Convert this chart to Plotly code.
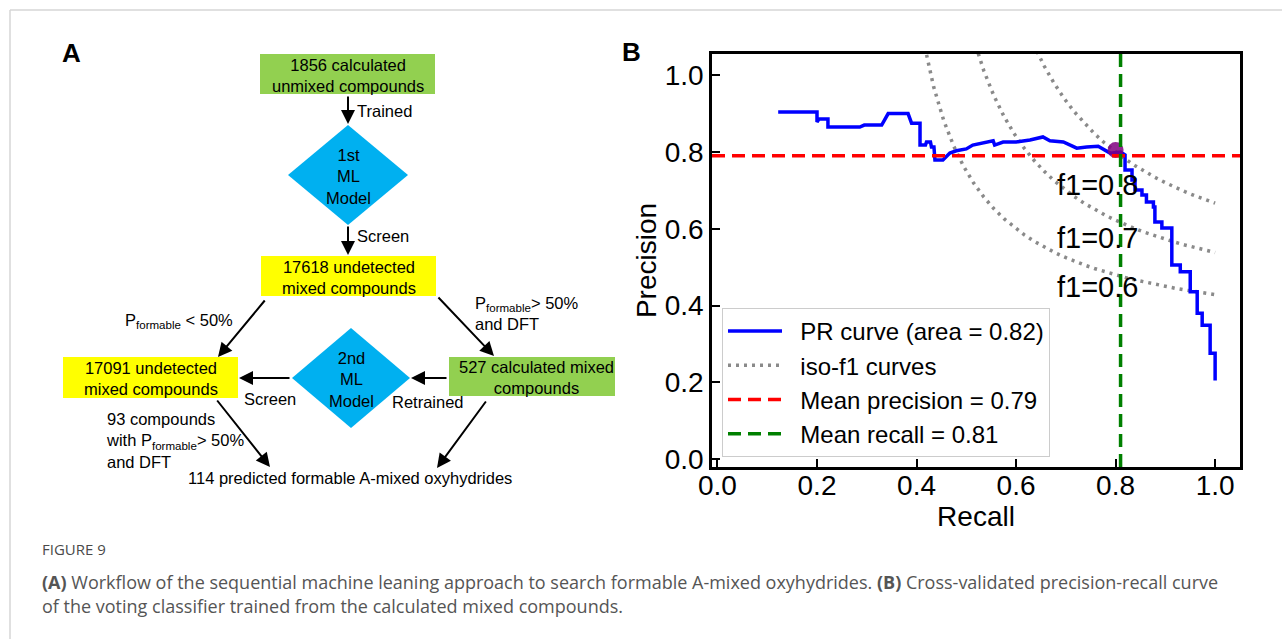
import numpy as np
import plotly.graph_objects as go

W, H = 1282, 639

# ---------------- Panel B: cross-validated precision-recall curve ----------------
recall = [0.122, 0.200, 0.200, 0.204, 0.222, 0.222, 0.286, 0.295, 0.330, 0.343,
          0.383, 0.390, 0.407, 0.407, 0.418, 0.420, 0.428, 0.430, 0.435, 0.437,
          0.453, 0.467, 0.480, 0.500, 0.513, 0.534, 0.554, 0.557, 0.574, 0.600,
          0.628, 0.654, 0.668, 0.695, 0.709, 0.722, 0.742, 0.765, 0.789, 0.810,
          0.819, 0.819, 0.833, 0.833, 0.839, 0.839, 0.853, 0.853, 0.862, 0.862,
          0.876, 0.876, 0.879, 0.879, 0.893, 0.893, 0.913, 0.913, 0.930, 0.930,
          0.950, 0.950, 0.964, 0.964, 0.974, 0.974, 0.990, 0.990, 1.000, 1.000]
precision = [0.904, 0.904, 0.878, 0.886, 0.886, 0.865, 0.865, 0.870, 0.870, 0.900,
             0.900, 0.875, 0.875, 0.818, 0.818, 0.826, 0.826, 0.813, 0.813, 0.779,
             0.779, 0.797, 0.803, 0.808, 0.818, 0.823, 0.829, 0.818, 0.826, 0.826,
             0.831, 0.839, 0.829, 0.826, 0.818, 0.810, 0.813, 0.815, 0.797, 0.800,
             0.792, 0.753, 0.753, 0.727, 0.727, 0.701, 0.701, 0.688, 0.688, 0.670,
             0.670, 0.657, 0.657, 0.618, 0.618, 0.602, 0.602, 0.506, 0.506, 0.488,
             0.488, 0.436, 0.436, 0.380, 0.380, 0.349, 0.349, 0.276, 0.276, 0.205]
assert len(recall) == len(precision)

f_scores = [0.6, 0.7, 0.8]
pr_area = 0.82
mean_precision = 0.79
mean_recall = 0.81
operating_recall = [0.80]
operating_precision = [0.805]

# ---------------- Panel A: workflow text ----------------
box_texts = ["1856 calculated<br>unmixed compounds",
             "17618 undetected<br>mixed compounds",
             "17091 undetected<br>mixed compounds",
             "527 calculated mixed<br>compounds"]
model_texts = ["1st<br>ML<br>Model", "2nd<br>ML<br>Model"]
edge_texts = ["Trained", "Screen", "P<sub>formable</sub> < 50%",
              "P<sub>formable</sub>> 50%<br>and DFT", "Screen", "Retrained",
              "93 compounds<br>with P<sub>formable</sub>> 50%<br>and DFT"]
result_text = "114 predicted formable A-mixed oxyhydrides"

caption_title = "FIGURE 9"
caption_lines = ["<b>(A)</b> Workflow of the sequential machine leaning approach to search formable "
                 "A-mixed oxyhydrides. <b>(B)</b> Cross-validated precision-recall curve",
                 "of the voting classifier trained from the calculated mixed compounds."]

GREEN, YELLOW, BLUE = "#92D050", "#FFFF00", "#00B0F0"
FONT = "Liberation Sans, Arial, sans-serif"
PAD = "\u00a0\u00a0"  # gap between legend sample line and its label

fig = go.Figure()

# iso-f1 reference curves
x_iso = np.linspace(0.01, 1, 50)
for i, f in enumerate(f_scores):
    y_iso = f * x_iso / (2 * x_iso - f)
    keep = y_iso >= 0
    fig.add_trace(go.Scatter(
        x=x_iso[keep], y=y_iso[keep], mode="lines",
        line=dict(color="rgba(125,125,125,0.9)", width=3.5, dash="3px,5px"),
        name=PAD + "iso-f1 curves", showlegend=(i == 0), legendgroup="iso", legendrank=2,
        xaxis="x", yaxis="y", hoverinfo="skip"))

fig.add_trace(go.Scatter(
    x=recall, y=precision, mode="lines",
    line=dict(color="#0000FF", width=3.5),
    name=PAD + f"PR curve (area = {pr_area:.2f})", legendgroup="pr", legendrank=1,
    xaxis="x", yaxis="y"))

fig.add_trace(go.Scatter(
    x=operating_recall, y=operating_precision, mode="markers",
    marker=dict(color="purple", size=16, opacity=0.85),
    showlegend=False, xaxis="x", yaxis="y"))

fig.add_trace(go.Scatter(
    x=[-0.011, 1.05], y=[mean_precision, mean_precision], mode="lines",
    line=dict(color="#FF0000", width=3.5, dash="13px,7px"),
    name=PAD + f"Mean precision = {mean_precision:.2f}", legendgroup="mp", legendrank=3,
    xaxis="x", yaxis="y"))

fig.add_trace(go.Scatter(
    x=[mean_recall, mean_recall], y=[-0.02, 1.055], mode="lines",
    line=dict(color="#008000", width=3.5, dash="13px,7px"),
    name=PAD + f"Mean recall = {mean_recall:.2f}", legendgroup="mr", legendrank=4,
    xaxis="x", yaxis="y"))

annotations = []
shapes = []

# f1 labels next to the iso curves
f1_label_pos = {0.8: (0.763, 0.714), 0.7: (0.763, 0.576), 0.6: (0.763, 0.448)}
for f in f_scores:
    lx, ly = f1_label_pos[f]
    annotations.append(dict(x=lx, y=ly, xref="x", yref="y", text=f"f1={f:.1f}",
                            xanchor="center", yanchor="middle", showarrow=False,
                            font=dict(family=FONT, size=29, color="black")))

# ---------------- Panel A drawing (pixel units, y downward) ----------------
box_geom = [(260, 435, 54, 94, GREEN), (261, 436, 256, 296, YELLOW),
            (63, 238, 357, 398, YELLOW), (449, 624, 357, 396, GREEN)]
for (x0, x1, y0, y1, col), txt in zip(box_geom, box_texts):
    shapes.append(dict(type="rect", xref="x2", yref="y2", x0=x0, x1=x1, y0=y0, y1=y1,
                       fillcolor=col, line=dict(width=0), layer="below"))
    annotations.append(dict(x=(x0 + x1) / 2, y=(y0 + y1) / 2 + 1, xref="x2", yref="y2",
                            text=txt, showarrow=False, xanchor="center", yanchor="middle",
                            font=dict(family=FONT, size=16.5, color="black")))

diamond_geom = [(348, 175, 60, 50), (351, 378, 59, 50)]
for (cx, cy, hw, hh), txt in zip(diamond_geom, model_texts):
    shapes.append(dict(type="path", xref="x2", yref="y2",
                       path=f"M {cx},{cy - hh} L {cx + hw},{cy} L {cx},{cy + hh} L {cx - hw},{cy} Z",
                       fillcolor=BLUE, line=dict(width=0), layer="below"))
    annotations.append(dict(x=cx, y=cy + 1, xref="x2", yref="y2", text=txt, showarrow=False,
                            xanchor="center", yanchor="middle",
                            font=dict(family=FONT, size=16.5, color="black")))

arrows = [((348, 95), (348, 124)), ((348, 225), (348, 255)),
          ((266, 299), (218, 357)), ((437, 296), (494, 356)),
          ((448, 378), (411, 378)), ((291, 378), (239, 378)),
          ((216, 399), (270, 467)), ((487, 400), (437, 468))]
for (tx, ty), (hx, hy) in arrows:
    annotations.append(dict(x=hx, y=hy, ax=tx, ay=ty, xref="x2", yref="y2",
                            axref="x2", ayref="y2", text="", showarrow=True,
                            arrowhead=2, arrowsize=1.4, arrowwidth=2, arrowcolor="black",
                            standoff=0, startstandoff=0))

edge_pos = [(355, 111), (355, 236), (123, 321), (473, 313), (242, 399), (390, 402), (104, 440)]
for (ex, ey), txt in zip(edge_pos, edge_texts):
    annotations.append(dict(x=ex, y=ey, xref="x2", yref="y2", text=txt, showarrow=False,
                            xanchor="left", yanchor="middle", align="left",
                            font=dict(family=FONT, size=16.5, color="black")))

annotations.append(dict(x=349.5, y=478, xref="x2", yref="y2", text=result_text,
                        showarrow=False, xanchor="center", yanchor="middle",
                        font=dict(family=FONT, size=16.5, color="black")))

# panel letters
annotations.append(dict(x=71 / W, y=1 - 53 / H, xref="paper", yref="paper", text="<b>A</b>",
                        xanchor="center", yanchor="middle", showarrow=False,
                        font=dict(family=FONT, size=26, color="black")))
annotations.append(dict(x=631 / W, y=1 - 52 / H, xref="paper", yref="paper", text="<b>B</b>",
                        xanchor="center", yanchor="middle", showarrow=False,
                        font=dict(family=FONT, size=26, color="black")))

# caption
annotations.append(dict(x=40 / W, y=1 - 549 / H, xref="paper", yref="paper", text=caption_title,
                        xanchor="left", yanchor="middle", showarrow=False,
                        font=dict(family="Open Sans", size=15, color="#4a4a4a")))
for i, line in enumerate(caption_lines):
    annotations.append(dict(x=40 / W, y=1 - (582 + 24 * i) / H, xref="paper", yref="paper",
                            text=line, xanchor="left", yanchor="middle", showarrow=False,
                            font=dict(family="Open Sans", size=18, color="#555555")))

# page frame
shapes.append(dict(type="line", xref="paper", yref="paper", x0=10 / W, x1=1, y0=1 - 10 / H,
                   y1=1 - 10 / H, line=dict(color="#d6d6d6", width=1.5)))
shapes.append(dict(type="line", xref="paper", yref="paper", x0=10 / W, x1=10 / W, y0=0,
                   y1=1 - 10 / H, line=dict(color="#d6d6d6", width=1.5)))

axis_common = dict(ticks="inside", ticklen=8, tickwidth=2, tickcolor="black",
                   showline=True, linecolor="black", linewidth=2.5, mirror=True,
                   showgrid=False, zeroline=False, automargin=False,
                   tickvals=[0, 0.2, 0.4, 0.6, 0.8, 1.0], tickformat=".1f",
                   tickfont=dict(family=FONT, size=28, color="black"))

fig.update_layout(
    width=W, height=H, margin=dict(l=0, r=0, t=0, b=0, autoexpand=False),
    paper_bgcolor="white", plot_bgcolor="white",
    xaxis=dict(domain=[712 / W, 1240 / W], range=[-0.011, 1.05], ticklabelstandoff=-8,
               title=dict(text="Recall", font=dict(family=FONT, size=28, color="black"), standoff=0),
               **axis_common),
    yaxis=dict(domain=[1 - 467 / H, 1 - 54 / H], range=[-0.02, 1.055],
               title=dict(text="Precision", font=dict(family=FONT, size=28, color="black"), standoff=0),
               **axis_common),
    xaxis2=dict(domain=[0, 615 / W], range=[0, 615], visible=False, anchor="y2", automargin=False),
    yaxis2=dict(domain=[0, 1], range=[H, 0], visible=False, anchor="x2", automargin=False),
    legend=dict(x=722 / W, y=1 - 308 / H, xanchor="left", yanchor="top",
                font=dict(family=FONT, size=24, color="black"),
                bgcolor="rgba(255,255,255,0.85)", bordercolor="#cccccc", borderwidth=1,
                itemwidth=54, tracegroupgap=0),
    annotations=annotations, shapes=shapes,
)

fig.write_html("out.html")
